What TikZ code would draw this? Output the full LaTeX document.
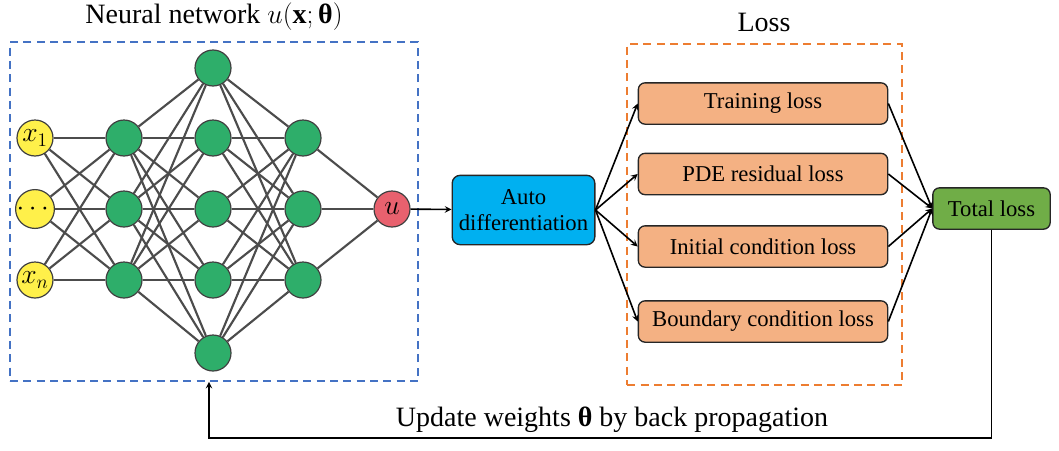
\documentclass[tikz,border=0pt]{standalone}
\usepackage{amsmath,bm}
\usepackage{fontspec}
\setmainfont{Liberation Serif}
\definecolor{inyellow}{HTML}{FFF04A}
\definecolor{hidgreen}{HTML}{2EAE6A}
\definecolor{outred}{HTML}{E8616E}
\definecolor{autoblue}{HTML}{00B0F0}
\definecolor{lossorange}{HTML}{F4B183}
\definecolor{totalgreen}{HTML}{70AD47}
\definecolor{netblue}{HTML}{4472C4}
\definecolor{boxorange}{HTML}{ED7D31}
\tikzset{>=stealth}
\tikzset{
  neuron/.style={circle, draw=black!75, line width=0.9pt, minimum size=27pt, inner sep=0pt,
    font=\fontsize{20}{22}\selectfont},
  link/.style={draw=black!70, line width=1.6pt},
  flow/.style={->, line width=1.2pt},
  lossbox/.style={draw=black!85, line width=1pt, rounded corners=5pt, fill=lossorange,
    minimum width=187pt, minimum height=31pt},
  framebox/.style={dashed, dash pattern=on 6pt off 4pt, line width=1.4pt},
  bigtext/.style={font=\fontsize{21}{24}\selectfont}
}

\begin{document}
\begin{tikzpicture}[x=0.75pt, y=-0.75pt, font=\fontsize{17}{20}\selectfont]
\useasboundingbox (0,0) rectangle (1059,450);
% dashed frames
\node[framebox, draw=netblue, minimum width=306pt, minimum height=254pt] (netbox) at (214,211.5) {};
\node[framebox, draw=boxorange, minimum width=206pt, minimum height=256pt] (lossframe) at (764.5,214.5) {};
\node[bigtext] (nettitle) at (214,17) {Neural network $u(\mathbf{x};$\,\textbf{θ}$)$};
\node[bigtext] (losstitle) at (764,22) {Loss};
% neurons
\node[neuron, fill=inyellow] (i1) at (35,138) {$x_1$};
\node[neuron, fill=inyellow] (i2) at (35,209) {$\cdots$};
\node[neuron, fill=inyellow] (i3) at (35,280) {$x_n$};
\foreach \j/\y in {1/138, 2/209, 3/280} {
  \node[neuron, fill=hidgreen] (a\j) at (124,\y) {};
  \node[neuron, fill=hidgreen] (c\j) at (303,\y) {};
}
\foreach \j/\y in {1/68, 2/138, 3/209, 4/280, 5/353}
  \node[neuron, fill=hidgreen] (b\j) at (213,\y) {};
\node[neuron, fill=outred] (out) at (392,209) {$u$};
% weights
\foreach \i in {1,2,3} {
  \foreach \j in {1,2,3}
    \draw[link] (i\i) -- (a\j);
  \foreach \j in {1,...,5}
    \draw[link] (a\i) -- (b\j);
  \foreach \j in {1,...,5}
    \draw[link] (c\i) -- (b\j);
  \draw[link] (c\i) -- (out);
}
% loss part
\node[draw=black!85, line width=1pt, rounded corners=6pt, fill=autoblue, align=center,
  minimum width=107pt, minimum height=52pt, inner sep=1pt] (auto) at (523.5,210) {Auto\\differentiation};
\node[lossbox] (l1) at (763,103.5) {Training loss};
\node[lossbox] (l2) at (763,174) {PDE residual loss};
\node[lossbox] (l3) at (763,246.5) {Initial condition loss};
\node[lossbox] (l4) at (763,321.5) {Boundary condition loss};
\node[draw=black!85, line width=1pt, rounded corners=5pt, fill=totalgreen,
  minimum width=88pt, minimum height=31pt] (total) at (991.5,208.5) {Total loss};
\draw[flow] (out) -- (auto);
\foreach \k in {1,...,4} {
  \draw[flow] (auto.east) -- (l\k.west);
  \draw[flow] (l\k.east) -- (total.west);
}
% back propagation
\coordinate (fb) at (209,438);
\draw[flow] (total.south) |- (fb) -- (fb |- netbox.south);
\node[bigtext] (bplabel) at (612,420) {Update weights \textbf{θ} by back propagation};
\end{tikzpicture}
\end{document}
